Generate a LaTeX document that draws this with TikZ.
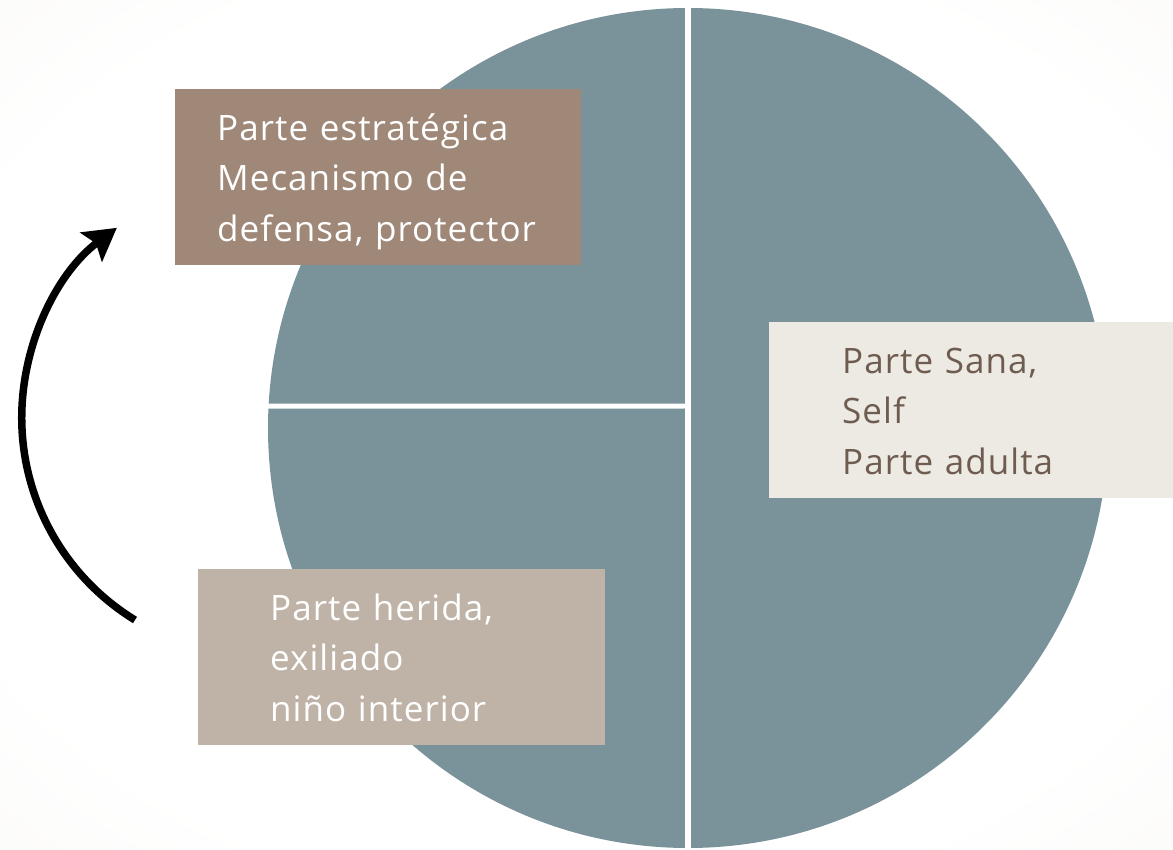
\documentclass[tikz,border=0pt]{standalone}
\usepackage{fontspec}
\setmainfont[LetterSpace=3]{Open Sans}
\usetikzlibrary{arrows.meta}
\definecolor{partecirc}{HTML}{7A9299}
\definecolor{protector}{HTML}{A08878}
\definecolor{herida}{HTML}{BFB3A7}
\definecolor{sano}{HTML}{EDEAE4}
\definecolor{sanotexto}{HTML}{6E5C50}
\definecolor{fondoborde}{HTML}{F6F5F1}
\definecolor{fondoesquina}{HTML}{EEECE7}
\pgfdeclareradialshading{fondo}{\pgfpoint{0bp}{0bp}}{color(0bp)=(white); color(28bp)=(white); color(50bp)=(fondoborde); color(72bp)=(fondoesquina)}
\begin{document}
\begin{tikzpicture}[x=1pt, y=-1pt,
    parte/.style={anchor=north west, inner ysep=0pt, minimum height=176pt, align=left,
      text height=26pt, text depth=100pt, font=\fontsize{35}{50.5}\selectfont},
    divisor/.style={white, line width=5pt, line cap=round},
    flecha/.style={line width=7.5pt, -{Stealth[length=32pt, width=36pt, inset=6pt]}}]
  \useasboundingbox (0,0) rectangle (1173,850);
  \shade[shading=fondo] (0,0) rectangle (1173,850);

  \node[circle, fill=partecirc, minimum size=840pt, inner sep=0pt] (yo) at (688,428) {};
  \coordinate (centro) at (684,406);
  \draw[divisor] (yo.177) -- (centro);
  \draw[divisor, line width=6pt, line cap=butt] (yo.north) -- (yo.south);

  \node[parte, fill=protector, text=white, inner xsep=42pt, text width=322pt] (estrategica) at (175,89)
    {Parte estratégica\\Mecanismo de\\defensa, protector};
  \node[parte, fill=sano, text=sanotexto, inner xsep=73pt, text width=260pt] (sana) at (769,322)
    {Parte Sana,\\Self\\Parte adulta};
  \node[parte, fill=herida, text=white, inner xsep=72pt, text width=263pt] (herida) at (198,569)
    {Parte herida,\\exiliado\\niño interior};

  \coordinate (inicio) at (135,620);
  \draw[flecha] (inicio) arc[start angle=121.5, end angle=233.2, radius=237.2];
\end{tikzpicture}
\end{document}
